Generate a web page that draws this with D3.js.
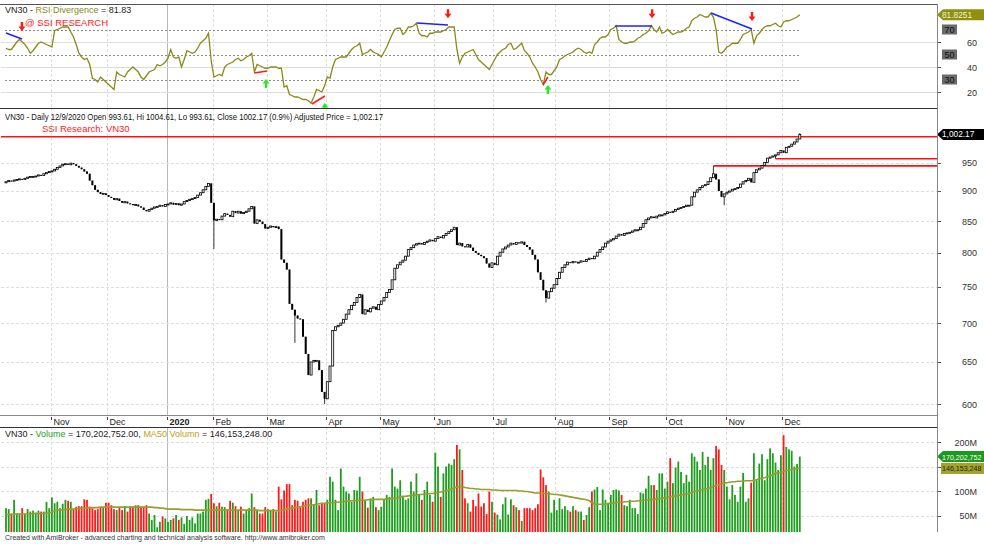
<!DOCTYPE html>
<html>
<head>
<meta charset="utf-8">
<script src="https://cdnjs.cloudflare.com/ajax/libs/d3/7.8.5/d3.min.js"></script>
<style>
body { margin: 0; background: #fff; }
svg { display: block; font-family: "Liberation Sans", Arial, sans-serif; }
</style>
</head>
<body>
<svg id="chart" width="984" height="544"></svg>
<script>
// month labels on the date strip, with the bar index where each month starts
const monthLabels = ["Nov", "Dec", "2020", "Feb", "Mar", "Apr", "May", "Jun", "Jul", "Aug", "Sep", "Oct", "Nov", "Dec"];
const monthIndex = [17, 38, 60, 77, 97, 119, 139, 159, 181, 204, 224, 245, 267, 288];

// daily closes of VN30 (Oct 2019 - 9 Dec 2020)
const firstOpen = 914;
const closes = [
    916, 918, 917, 919, 920, 921, 920, 922, 924, 925,
    925, 926, 928, 927, 930, 932, 934, 935, 938, 941,
    944, 947, 948, 946, 949, 947, 944, 941, 938, 934,
    930, 918, 910, 902, 898, 895, 896, 893, 890, 888,
    885, 887, 883, 880, 882, 879, 878, 876, 877, 874,
    872, 868, 866, 869, 871, 873, 874, 876, 874, 877,
    878, 880, 877, 879, 876, 878, 882, 884, 886, 887,
    889, 893, 897, 902, 908, 913, 880, 851, 853, 852,
    858, 862, 860, 857, 866, 863, 866, 862, 864, 866,
    870, 874, 846, 852, 849, 845, 838, 840, 842, 840,
    841, 837, 790, 785, 775, 726, 718, 710, 706, 705,
    682, 660, 634, 650, 652, 652, 640, 614, 606, 626,
    645, 690, 695, 697, 700, 705, 712, 718, 724, 728,
    735, 739, 712, 718, 715, 720, 722, 718, 725, 730,
    735, 742, 746, 760, 777, 782, 786, 789, 795, 805,
    808, 812, 814, 815, 813, 816, 818, 820, 818, 822,
    825, 823, 827, 830, 833, 836, 840, 812, 815, 810,
    809, 813, 808, 803, 800, 797, 795, 792, 784, 778,
    785, 782, 795, 801, 806, 809, 812, 815, 813, 816,
    815, 817, 812, 809, 805, 797, 790, 771, 760, 745,
    734, 743, 748, 753, 762, 771, 778, 782, 786, 785,
    787, 786, 786, 788, 787, 790, 792, 791, 795, 801,
    805, 809, 815, 818, 820, 822, 826, 829, 827, 830,
    831, 832, 834, 836, 836, 840, 846, 852, 855, 857,
    855, 858, 860, 860, 862, 865, 864, 866, 869, 871,
    872, 874, 876, 876, 890, 898, 902, 906, 909, 911,
    916, 923, 930, 920, 900, 890, 895, 898, 900, 903,
    904, 906, 912, 916, 918, 922, 915, 932, 937, 940,
    945, 950, 958, 960, 962, 964, 968, 972, 968, 978,
    980, 984, 988, 993.61, 1002.17
];
// long shadows that stick out of the bodies: [bar, price]
const wickLows = [[77, 806], [107, 674], [118, 600], [200, 728], [266, 876], [285, 957]];
const wickHighs = [[262, 944], [294, 1004.61]];

// volume in millions of shares
const volumes = [
    65, 63, 54, 82, 54, 54, 65, 54, 63, 58,
    60, 56, 60, 58, 58, 78, 65, 87, 75, 78,
    65, 74, 82, 80, 78, 63, 68, 69, 69, 83,
    82, 68, 65, 61, 63, 67, 67, 76, 76, 71,
    63, 61, 67, 61, 69, 58, 69, 68, 71, 71,
    68, 68, 71, 54, 41, 51, 26, 37, 48, 44,
    37, 41, 44, 51, 41, 46, 33, 49, 41, 46,
    34, 54, 54, 58, 82, 84, 94, 75, 69, 76,
    68, 67, 63, 80, 76, 69, 61, 68, 54, 60,
    65, 95, 67, 61, 54, 54, 67, 63, 60, 63,
    58, 109, 83, 101, 114, 114, 71, 82, 80, 67,
    78, 82, 85, 85, 73, 102, 71, 75, 75, 82,
    129, 119, 82, 61, 146, 109, 99, 95, 78, 102,
    101, 129, 99, 82, 66, 85, 88, 67, 61, 68,
    82, 92, 88, 146, 109, 105, 122, 88, 82, 85,
    119, 99, 136, 92, 82, 102, 119, 92, 78, 178,
    150, 88, 136, 150, 156, 153, 165, 194, 185, 143,
    85, 75, 58, 82, 69, 95, 68, 75, 53, 99,
    78, 56, 52, 42, 73, 87, 52, 83, 71, 67,
    61, 39, 65, 65, 65, 61, 65, 73, 144, 128,
    112, 99, 56, 82, 61, 85, 63, 69, 61, 58,
    69, 61, 58, 58, 41, 51, 67, 99, 103, 108,
    61, 103, 82, 76, 92, 102, 103, 101, 92, 71,
    69, 82, 65, 65, 53, 97, 95, 105, 131, 112,
    112, 102, 136, 136, 105, 119, 167, 116, 148, 160,
    139, 116, 133, 119, 177, 170, 160, 143, 180, 153,
    170, 143, 167, 192, 185, 153, 143, 109, 83, 112,
    92, 78, 109, 137, 78, 85, 117, 177, 122, 156,
    175, 122, 165, 187, 177, 158, 143, 173, 214, 190,
    185, 182, 150, 155, 170.202752
];
const volumeMA50 = [
    52, 52, 52, 53, 53, 53, 53, 53, 53, 53,
    54, 54, 54, 54, 54, 55, 55, 57, 59, 61,
    61, 62, 62, 63, 63, 63, 64, 64, 65, 65,
    65, 66, 66, 66, 66, 67, 67, 67, 67, 67,
    67, 67, 67, 67, 67, 67, 67, 67, 67, 67,
    67, 67, 67, 67, 67, 66, 66, 65, 65, 64,
    63, 63, 63, 63, 63, 62, 62, 62, 62, 62,
    61, 61, 61, 61, 61, 61, 61, 61, 61, 61,
    61, 61, 61, 61, 61, 61, 61, 61, 61, 61,
    61, 61, 61, 61, 60, 60, 60, 60, 60, 60,
    60, 60, 61, 62, 63, 64, 65, 66, 67, 68,
    69, 70, 71, 71, 72, 73, 74, 75, 75, 76,
    76, 76, 77, 77, 78, 78, 79, 79, 80, 80,
    80, 81, 81, 81, 82, 82, 82, 83, 83, 83,
    83, 84, 84, 85, 85, 86, 88, 89, 89, 90,
    91, 91, 92, 93, 93, 94, 94, 95, 95, 96,
    97, 98, 99, 100, 102, 104, 106, 108, 109, 109,
    107, 106, 105, 105, 104, 104, 103, 103, 103, 103,
    102, 102, 102, 101, 101, 101, 101, 101, 101, 101,
    100, 100, 99, 99, 98, 97, 96, 96, 95, 95,
    95, 94, 94, 93, 93, 92, 91, 90, 89, 88,
    87, 86, 85, 84, 83, 82, 80, 76, 73, 73,
    73, 73, 73, 74, 75, 75, 76, 77, 77, 78,
    78, 79, 79, 79, 80, 80, 81, 81, 82, 83,
    83, 84, 84, 85, 86, 87, 88, 89, 90, 91,
    92, 93, 94, 95, 97, 99, 100, 101, 103, 104,
    105, 107, 109, 111, 113, 115, 116, 117, 118, 119,
    119, 120, 120, 120, 121, 121, 121, 122, 123, 125,
    126, 127, 129, 131, 133, 136, 137, 138, 140, 142,
    143, 144, 145, 146, 146.153248
];

// RSI line of the top pane
const rsiValues = [
    55, 54, 54, 57, 60, 62, 60, 58, 55, 51,
    53, 56, 59, 60, 59, 58, 57, 56, 69, 70,
    71, 72, 72, 72, 68, 64, 58, 51, 48, 46,
    47, 42, 31, 30, 28, 32, 30, 28, 26, 24,
    22, 36, 34, 33, 32, 36, 38, 40, 38, 36,
    32, 30, 33, 36, 37, 38, 42, 41, 42, 44,
    47, 54, 48, 47, 48, 40, 46, 53, 52, 51,
    52, 55, 59, 61, 63, 67, 45, 32, 33, 34,
    33, 40, 42, 43, 44, 46, 47, 45, 46, 48,
    49, 51, 36, 42, 41, 40, 39, 39, 40, 40,
    40, 39, 39, 24, 25, 18, 17, 16, 16, 15,
    14, 14, 13, 11, 16, 22, 21, 20, 25, 32,
    31, 40, 46, 47, 48, 48, 48, 51, 54, 56,
    57, 59, 50, 51, 52, 54, 52, 51, 50, 48,
    52, 56, 61, 66, 70, 71, 71, 66, 68, 72,
    72, 73, 75, 67, 65, 65, 64, 67, 67, 68,
    68, 68, 69, 70, 72, 72, 72, 54, 43, 48,
    51, 52, 53, 54, 50, 46, 44, 42, 40, 38,
    42, 46, 50, 52, 54, 55, 58, 59, 54, 55,
    57, 59, 53, 51, 48, 43, 40, 36, 30, 26,
    36, 34, 34, 37, 40, 46, 47, 49, 50, 51,
    52, 54, 55, 54, 52, 51, 52, 51, 58, 60,
    63, 64, 64, 66, 70, 71, 73, 62, 60, 59,
    59, 60, 60, 61, 63, 64, 66, 67, 69, 73,
    70, 68, 72, 67, 68, 70, 68, 66, 67, 68,
    68, 69, 71, 72, 77, 79, 80, 82, 81, 80,
    80, 83, 80, 70, 52, 51, 53, 56, 57, 59,
    59, 59, 62, 66, 67, 68, 70, 59, 65, 67,
    70, 72, 73, 73, 74, 75, 73, 72, 76, 77,
    77, 78, 79, 80, 81.8251
];
// divergence segments on the RSI: [bar1, rsi1, bar2, rsi2, colour]
const divergenceLines = [
    [0, 67.2, 5.9, 62.4, "#2020ff"],
    [91.9, 35.2, 96.7, 36.8, "#ff1a1a"],
    [113.3, 10.4, 118.1, 16.8, "#ff1a1a"],
    [152.2, 75.2, 163.7, 73.6, "#2020ff"],
    [198.9, 25.6, 200.7, 32, "#ff1a1a"],
    [225.6, 72.8, 239.3, 72.8, "#2020ff"],
    [261.1, 83.2, 276.3, 70.4, "#2020ff"]
];
// signal arrows: [bar, direction, rsi level of the tip]
const signalArrows = [
    [5.9, "down", 68.8], [163.7, "down", 79], [239.3, "down", 79], [276.3, "down", 76.8],
    [96.3, "up", 30.4], [118.1, "up", 11.2], [200.7, "up", 25.6]
];
// horizontal red levels on the price pane: [start bar, price]
const priceLevels = [[0, 998], [285, 957], [262, 944]];

const priceTicks = [600, 650, 700, 750, 800, 850, 900, 950];
const rsiGridTicks = [20, 40, 60];
const rsiBands = [30, 50, 70];
const volumeTicks = [50, 100, 150, 200];
const volumeTickLabels = ["50M", "100M", "", "200M"];

const svg = d3.select("#chart");
const axisX = 937;

const x = d3.scaleLinear().domain([0, 344]).range([6, 934.8]);
const yRsi = d3.scaleLinear().domain([20, 70]).range([92, 29.5]);
const yPrice = d3.scaleLog().domain([587.6, 1054]).range([415, 108]);
const yVol = d3.scaleLinear().domain([0, 200]).range([540, 442]);

const panes = {
    rsi: { top: 4, bottom: 108 },
    price: { top: 108, bottom: 415 },
    vol: { top: 427, bottom: 532 }
};

svg.append("rect").attr("width", 984).attr("height", 544).attr("fill", "#fff");

const defs = svg.append("defs");
for (const name in panes) {
    defs.append("clipPath")
        .attr("id", "clip-" + name)
        .append("rect")
        .attr("x", 1)
        .attr("y", panes[name].top + 1)
        .attr("width", axisX - 1)
        .attr("height", panes[name].bottom - panes[name].top - 1);
}

// vertical month gridlines through all panes
function monthGrid(pane) {
    const g = svg.append("g");
    monthIndex.forEach((mi, k) => {
        const gx = Math.round(x(mi - 0.5)) + 0.5;
        g.append("line")
            .attr("x1", gx).attr("x2", gx)
            .attr("y1", pane.top).attr("y2", pane.bottom)
            .attr("stroke", monthLabels[k] === "2020" ? "#b8b8b8" : "#dedede")
            .attr("stroke-dasharray", monthLabels[k] === "2020" ? null : "3,2");
    });
}
monthGrid(panes.rsi);
monthGrid(panes.price);
monthGrid(panes.vol);

function hGrid(y, dashed) {
    svg.append("line")
        .attr("x1", 1).attr("x2", axisX)
        .attr("y1", Math.round(y) + 0.5).attr("y2", Math.round(y) + 0.5)
        .attr("stroke", "#dedede")
        .attr("stroke-dasharray", dashed ? "3,2" : null);
}

function axisLabel(y, text) {
    svg.append("line")
        .attr("x1", axisX).attr("x2", axisX + 4)
        .attr("y1", Math.round(y) + 0.5).attr("y2", Math.round(y) + 0.5)
        .attr("stroke", "#555");
    if (text) {
        svg.append("text")
            .attr("x", 977).attr("y", y + 3.5)
            .attr("text-anchor", "end")
            .attr("font-size", "9px")
            .attr("fill", "#333")
            .text(text);
    }
}

// value tag on the right axis
function valueTag(y, label, bg, fg, pointed, size) {
    const h = 5.5;
    const pts = pointed
        ? [[937, y], [943, y - h], [984, y - h], [984, y + h], [943, y + h]]
        : [[941, y - h], [984, y - h], [984, y + h], [941, y + h]];
    svg.append("polygon")
        .attr("points", pts.map((p) => p.join(",")).join(" "))
        .attr("fill", bg);
    svg.append("text")
        .attr("x", 942).attr("y", y + 3)
        .attr("font-size", (size || 8.3) + "px")
        .attr("fill", fg)
        .text(label);
}

// ---------- RSI pane ----------
rsiGridTicks.forEach((t) => {
    hGrid(yRsi(t), false);
    axisLabel(yRsi(t), String(t));
});
const rsiG = svg.append("g").attr("clip-path", "url(#clip-rsi)");
rsiBands.forEach((b) => {
    rsiG.append("line")
        .attr("x1", x(0) - 1).attr("x2", x(closes.length - 1))
        .attr("y1", Math.round(yRsi(b)) + 0.5).attr("y2", Math.round(yRsi(b)) + 0.5)
        .attr("stroke", "#8c8c8c")
        .attr("stroke-dasharray", "2,2");
});
rsiG.append("path")
    .datum(rsiValues)
    .attr("fill", "none")
    .attr("stroke", "#8a8a18")
    .attr("stroke-width", 1.3)
    .attr("d", d3.line().x((d, i) => x(i)).y((d) => yRsi(d)));
divergenceLines.forEach((d) => {
    rsiG.append("line")
        .attr("x1", x(d[0])).attr("y1", yRsi(d[1]))
        .attr("x2", x(d[2])).attr("y2", yRsi(d[3]))
        .attr("stroke", d[4])
        .attr("stroke-width", 1.5);
});
signalArrows.forEach((a) => {
    const cx = x(a[0]);
    const tip = yRsi(a[2]);
    const s = a[1] === "down" ? 1 : -1;
    const p = d3.path();
    p.moveTo(cx - 1.2, tip - s * 9);
    p.lineTo(cx + 1.2, tip - s * 9);
    p.lineTo(cx + 1.2, tip - s * 4.5);
    p.lineTo(cx + 3.5, tip - s * 4.5);
    p.lineTo(cx, tip);
    p.lineTo(cx - 3.5, tip - s * 4.5);
    p.lineTo(cx - 1.2, tip - s * 4.5);
    p.closePath();
    rsiG.append("path")
        .attr("d", p.toString())
        .attr("fill", a[1] === "down" ? "#ff1a1a" : "#22ee22");
});
rsiBands.forEach((b) => {
    const by = yRsi(b);
    svg.append("rect")
        .attr("x", 942).attr("y", by - 5)
        .attr("width", 15).attr("height", 10)
        .attr("fill", "#6a6a6a");
    svg.append("text")
        .attr("x", 949.5).attr("y", by + 3.3)
        .attr("text-anchor", "middle")
        .attr("font-size", "9px")
        .attr("fill", "#111")
        .text(b);
});
valueTag(yRsi(rsiValues[rsiValues.length - 1]), "81.8251", "#8f8f10", "#f4f4d0", true);

const rsiTitle = svg.append("text").attr("x", 5).attr("y", 13).attr("font-size", "9px");
rsiTitle.append("tspan").attr("fill", "#222").text("VN30 - ");
rsiTitle.append("tspan").attr("fill", "#8a8a18").text("RSI Divergence");
rsiTitle.append("tspan").attr("fill", "#222").text(" = 81.83");
svg.append("text")
    .attr("x", 25).attr("y", 26)
    .attr("font-size", "9.5px")
    .attr("fill", "#ff1a1a")
    .text("@ SSI RESEARCH");

// ---------- price pane ----------
priceTicks.forEach((t) => {
    hGrid(yPrice(t), true);
    axisLabel(yPrice(t), String(t));
});
const priceG = svg.append("g").attr("clip-path", "url(#clip-price)");
priceLevels.forEach((lv) => {
    priceG.append("line")
        .attr("x1", lv[0] === 0 ? 1 : x(lv[0])).attr("x2", axisX)
        .attr("y1", yPrice(lv[1])).attr("y2", yPrice(lv[1]))
        .attr("stroke", "#ff1010")
        .attr("stroke-width", 1.6);
});

const bars = closes.map((c, i) => {
    const o = i === 0 ? firstOpen : closes[i - 1];
    return { i: i, o: o, c: c, h: Math.max(o, c), l: Math.min(o, c) };
});
wickLows.forEach((w) => { bars[w[0]].l = w[1]; });
wickHighs.forEach((w) => { bars[w[0]].h = w[1]; });

priceG.selectAll("line.wick")
    .data(bars)
    .enter()
    .append("line")
    .attr("class", "wick")
    .attr("x1", (d) => x(d.i)).attr("x2", (d) => x(d.i))
    .attr("y1", (d) => yPrice(d.h)).attr("y2", (d) => yPrice(d.l))
    .attr("stroke", "#000")
    .attr("stroke-width", 0.8);
priceG.selectAll("rect.body")
    .data(bars)
    .enter()
    .append("rect")
    .attr("class", "body")
    .attr("x", (d) => x(d.i) - 1)
    .attr("width", 2)
    .attr("y", (d) => yPrice(Math.max(d.o, d.c)))
    .attr("height", (d) => Math.max(1, yPrice(Math.min(d.o, d.c)) - yPrice(Math.max(d.o, d.c))))
    .attr("fill", (d) => (d.c >= d.o ? "#fff" : "#000"))
    .attr("stroke", "#000")
    .attr("stroke-width", (d) => (d.c >= d.o ? 0.8 : 0));

valueTag(yPrice(closes[closes.length - 1]), "1,002.17", "#000", "#fff", true);

svg.append("text")
    .attr("x", 5).attr("y", 120)
    .attr("font-size", "8.6px")
    .attr("textLength", 378)
    .attr("lengthAdjust", "spacingAndGlyphs")
    .attr("fill", "#111")
    .text("VN30 - Daily 12/9/2020 Open 993.61, Hi 1004.61, Lo 993.61, Close 1002.17 (0.9%) Adjusted Price = 1,002.17");
svg.append("text")
    .attr("x", 42).attr("y", 132)
    .attr("font-size", "9.5px")
    .attr("fill", "#ff1a1a")
    .text("SSI Research: VN30");

// ---------- date strip ----------
monthIndex.forEach((mi, k) => {
    const tx = Math.round(x(mi - 0.5)) + 0.5;
    svg.append("line")
        .attr("x1", tx).attr("x2", tx)
        .attr("y1", 417).attr("y2", 420)
        .attr("stroke", "#444");
    svg.append("text")
        .attr("x", tx + 2).attr("y", 425)
        .attr("font-size", "9px")
        .attr("font-weight", monthLabels[k] === "2020" ? "bold" : "normal")
        .attr("fill", "#222")
        .text(monthLabels[k]);
});

// ---------- volume pane ----------
volumeTicks.forEach((t, k) => {
    hGrid(yVol(t), true);
    axisLabel(yVol(t), volumeTickLabels[k]);
});
const volG = svg.append("g").attr("clip-path", "url(#clip-vol)");
volG.selectAll("rect.vol")
    .data(volumes)
    .enter()
    .append("rect")
    .attr("class", "vol")
    .attr("x", (d, i) => x(i) - 0.9)
    .attr("width", 1.8)
    .attr("y", (d) => yVol(d))
    .attr("height", (d) => 540 - yVol(d))
    .attr("fill", (d, i) => (bars[i].c >= bars[i].o ? "#1e9e1e" : "#ff1a1a"));
volG.append("path")
    .datum(volumeMA50)
    .attr("fill", "none")
    .attr("stroke", "#9c9c2c")
    .attr("stroke-width", 1.6)
    .attr("d", d3.line().x((d, i) => x(i)).y((d) => yVol(d)));

valueTag(yVol(volumes[volumes.length - 1]), "170,202,752", "#1a9a1a", "#fff", true, 7.1);
valueTag(yVol(volumeMA50[volumeMA50.length - 1]), "146,153,248", "#a3a328", "#222", false, 7.1);

const volTitle = svg.append("text").attr("x", 5).attr("y", 437).attr("font-size", "9px");
volTitle.append("tspan").attr("fill", "#222").text("VN30 - ");
volTitle.append("tspan").attr("fill", "#1e9e1e").text("Volume");
volTitle.append("tspan").attr("fill", "#222").text(" = 170,202,752.00, ");
volTitle.append("tspan").attr("fill", "#c0a020").text("MA50 Volumn");
volTitle.append("tspan").attr("fill", "#222").text(" = 146,153,248.00");

// ---------- frame ----------
const frame = svg.append("g").attr("stroke", "#555").attr("fill", "none");
frame.append("line").attr("x1", 0).attr("x2", axisX).attr("y1", 4.5).attr("y2", 4.5);
frame.append("line").attr("x1", 0).attr("x2", axisX).attr("y1", 108.5).attr("y2", 108.5).attr("stroke", "#333");
frame.append("line").attr("x1", 0).attr("x2", axisX).attr("y1", 415.5).attr("y2", 415.5).attr("stroke", "#888");
frame.append("line").attr("x1", 0).attr("x2", axisX).attr("y1", 427.5).attr("y2", 427.5).attr("stroke", "#333");
frame.append("line").attr("x1", axisX + 0.5).attr("x2", axisX + 0.5).attr("y1", 4).attr("y2", 532).attr("stroke", "#888");

svg.append("text")
    .attr("x", 5).attr("y", 540)
    .attr("font-size", "7px")
    .attr("fill", "#333")
    .text("Created with AmiBroker - advanced charting and technical analysis software. http://www.amibroker.com");
</script>
</body>
</html>
